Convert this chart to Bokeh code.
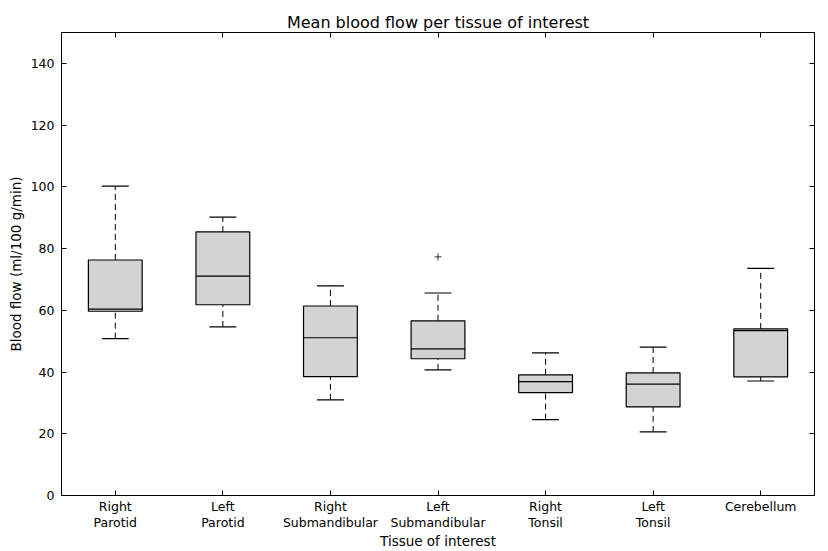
from bokeh.plotting import figure
from bokeh.models import FixedTicker, LinearAxis, Range1d
from bokeh.embed import file_html
from bokeh.resources import INLINE

tissues = ["Right\nParotid", "Left\nParotid", "Right\nSubmandibular", "Left\nSubmandibular",
           "Right\nTonsil", "Left\nTonsil", "Cerebellum"]
positions = [1, 2, 3, 4, 5, 6, 7]
whisker_low = [50.8, 54.6, 31.0, 40.7, 24.6, 20.6, 37.1]
q1 = [59.7, 61.8, 38.5, 44.3, 33.3, 28.7, 38.4]
median = [60.4, 71.1, 51.1, 47.5, 36.9, 36.1, 53.4]
q3 = [76.3, 85.4, 61.4, 56.6, 39.1, 39.7, 54.0]
whisker_high = [100.2, 90.2, 67.9, 65.6, 46.2, 48.1, 73.6]
flier_pos = [4]
flier_val = [77.3]
y_ticks = [0, 20, 40, 60, 80, 100, 120, 140]

FONT = "DejaVu Sans"
box_w = 0.5
cap_w = 0.25

p = figure(width=828, height=551, output_backend="svg", toolbar_location=None,
           x_range=Range1d(0.5, 7.5), y_range=Range1d(0, 150),
           title="Mean blood flow per tissue of interest",
           min_border_left=61, min_border_right=14, min_border_top=32, min_border_bottom=55)
p.title.align = "center"
p.title.text_font = FONT
p.title.text_font_size = "16px"
p.title.text_font_style = "normal"
p.title.text_color = "black"
p.title.standoff = 2
p.xgrid.visible = False
p.ygrid.visible = False
p.outline_line_color = "black"
p.outline_line_width = 1
p.background_fill_color = "white"
p.border_fill_color = "white"

# whiskers
p.segment(x0=positions, x1=positions, y0=q3, y1=whisker_high, line_color="black",
          line_width=1, line_dash="6 4")
p.segment(x0=positions, x1=positions, y0=whisker_low, y1=q1, line_color="black",
          line_width=1, line_dash="6 4")
# caps
p.segment(x0=[x - cap_w / 2 for x in positions], x1=[x + cap_w / 2 for x in positions],
          y0=whisker_high, y1=whisker_high, line_color="black", line_width=1.2)
p.segment(x0=[x - cap_w / 2 for x in positions], x1=[x + cap_w / 2 for x in positions],
          y0=whisker_low, y1=whisker_low, line_color="black", line_width=1.2)
# boxes
p.vbar(x=positions, width=box_w, top=q3, bottom=q1, fill_color="#d3d3d3",
       line_color="black", line_width=1.2)
# medians
p.segment(x0=[x - box_w / 2 for x in positions], x1=[x + box_w / 2 for x in positions],
          y0=median, y1=median, line_color="black", line_width=1.2)
# fliers
p.scatter(x=flier_pos, y=flier_val, marker="cross", size=7, line_color="black", line_width=0.8)

def style_axis(ax):
    ax.axis_line_color = "black"
    ax.major_tick_in = 5
    ax.major_tick_out = 0
    ax.minor_tick_in = 0
    ax.minor_tick_out = 0
    ax.major_tick_line_color = "black"
    ax.major_label_text_font = FONT
    ax.major_label_text_font_size = "12.5px"
    ax.major_label_text_color = "black"
    ax.major_label_text_line_height = 1.08
    ax.axis_label_text_font = FONT
    ax.axis_label_text_font_size = "13.5px"
    ax.axis_label_text_font_style = "normal"
    ax.axis_label_text_color = "black"

xa = p.xaxis[0]
xa.ticker = FixedTicker(ticks=positions)
xa.major_label_overrides = {pos: lab for pos, lab in zip(positions, tissues)}
xa.axis_label = "Tissue of interest"
style_axis(xa)
xa.major_label_standoff = 3
xa.axis_label_standoff = 0

ya = p.yaxis[0]
ya.ticker = FixedTicker(ticks=y_ticks)
ya.axis_label = "Blood flow (ml/100 g/min)"
style_axis(ya)
ya.major_label_standoff = 7
ya.axis_label_standoff = 4

top_ax = LinearAxis(ticker=FixedTicker(ticks=positions))
style_axis(top_ax)
top_ax.major_label_text_font_size = "0px"
top_ax.major_label_text_color = None
top_ax.major_label_standoff = 0
p.add_layout(top_ax, "above")

right_ax = LinearAxis(ticker=FixedTicker(ticks=y_ticks))
style_axis(right_ax)
right_ax.major_label_text_font_size = "0px"
right_ax.major_label_text_color = None
right_ax.major_label_standoff = 0
p.add_layout(right_ax, "right")

open("out.html", "w").write(file_html(p, INLINE))
